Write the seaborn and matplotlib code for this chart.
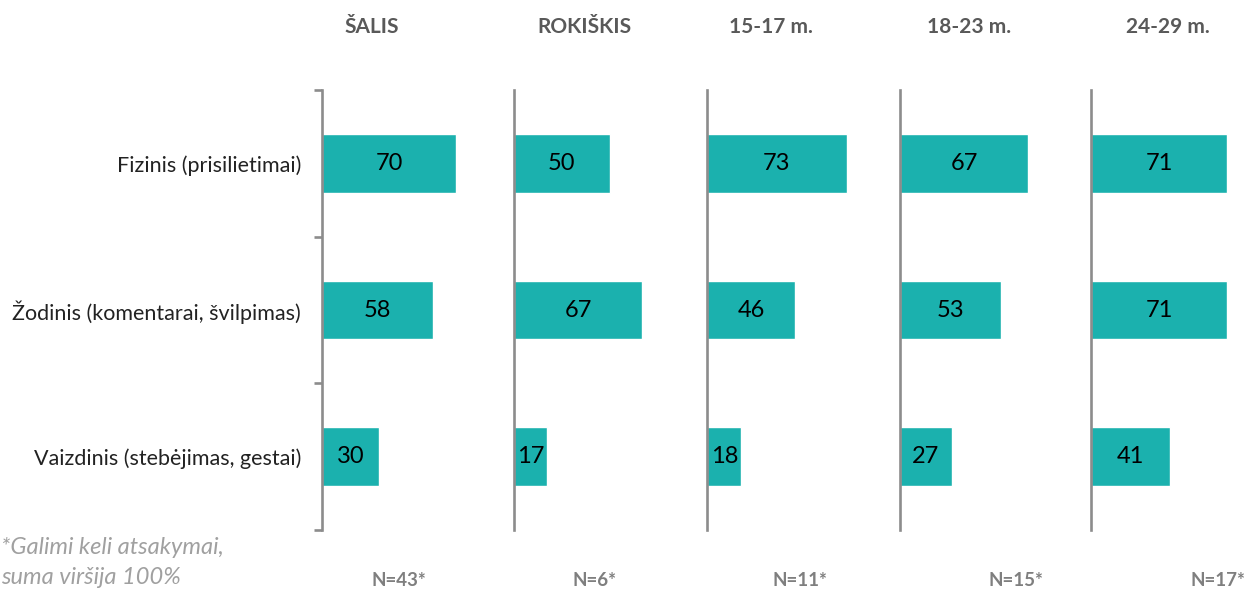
import numpy as np
import pandas as pd
import matplotlib
matplotlib.use("Agg")
import matplotlib.pyplot as plt
import seaborn as sns

# ── Data ────────────────────────────────────────────────
categories = ["Fizinis (prisilietimai)",
              "Žodinis (komentarai, švilpimas)",
              "Vaizdinis (stebėjimas, gestai)"]
groups = ["ŠALIS", "ROKIŠKIS", "15-17 m.", "18-23 m.", "24-29 m."]
salis = [70, 58, 30]
rokiskis = [50, 67, 17]
age_15_17 = [73, 46, 18]
age_18_23 = [67, 53, 27]
age_24_29 = [71, 71, 41]
n_labels = ["N=43*", "N=6*", "N=11*", "N=15*", "N=17*"]
footnote_1 = "*Galimi keli atsakymai,"
footnote_2 = "suma viršija 100%"

series = [salis, rokiskis, age_15_17, age_18_23, age_24_29]
df = pd.DataFrame({
    "group": np.repeat(groups, len(categories)),
    "category": categories * len(groups),
    "value": np.concatenate(series),
})

# ── Style ───────────────────────────────────────────────
sns.set_style("white")
plt.rcParams["font.family"] = ["Lato", "DejaVu Sans"]

BAR = "#1BB1AE"
SPINE = "#8C8C8C"
W, H = 1251, 592

fig = plt.figure(figsize=(W / 100, H / 100), dpi=100)

# panel left edges (px), common scale ~1.915 px per unit
lefts = [322, 514, 707, 900, 1091]
title_x = [372, 584, 771, 969, 1168]
n_x = [399, 594, 800, 1016, 1218]
top, bottom = 90, 530

for i, g in enumerate(groups):
    ax = fig.add_axes([lefts[i] / W, (H - bottom) / H,
                       191.5 / W, (bottom - top) / H])
    sub = df[df["group"] == g]
    sns.barplot(data=sub, x="value", y="category", order=categories,
                color=BAR, width=0.4, saturation=1, ax=ax)
    ax.set_xlim(0, 100)
    ax.set_ylim(2.5, -0.5)
    ax.set_xlabel("")
    ax.set_ylabel("")
    ax.set_xticks([])
    for s in ["top", "right", "bottom"]:
        ax.spines[s].set_visible(False)
    ax.spines["left"].set_color(SPINE)
    ax.spines["left"].set_linewidth(1.9)
    for c in ax.containers:
        ax.bar_label(c, label_type="center", fontsize=17, color="black")

    if i == 0:
        ax.set_yticks(range(len(categories)))
        ax.set_yticklabels(categories, fontsize=15.5, color="#222222")
        ax.tick_params(axis="y", which="major", length=0, pad=15)
        ax.set_yticks([-0.5, 0.5, 1.5, 2.5], minor=True)
        ax.tick_params(axis="y", which="minor", left=True, length=6,
                       width=1.9, color=SPINE)
    else:
        ax.set_yticks([])

    fig.text(title_x[i] / W, 1 - 27 / H, g, ha="center", va="center",
             fontsize=15, fontweight="bold", color="#595959")
    fig.text(n_x[i] / W, 1 - 580 / H, n_labels[i], ha="center", va="center",
             fontsize=13.5, fontweight="bold", color="#7F7F7F")

fig.text(1 / W, 1 - 548 / H, footnote_1, ha="left", va="center",
         fontsize=17, fontstyle="italic", color="#A0A0A0")
fig.text(1 / W, 1 - 577 / H, footnote_2, ha="left", va="center",
         fontsize=17, fontstyle="italic", color="#A0A0A0")

fig.savefig("out.png", dpi=100)
